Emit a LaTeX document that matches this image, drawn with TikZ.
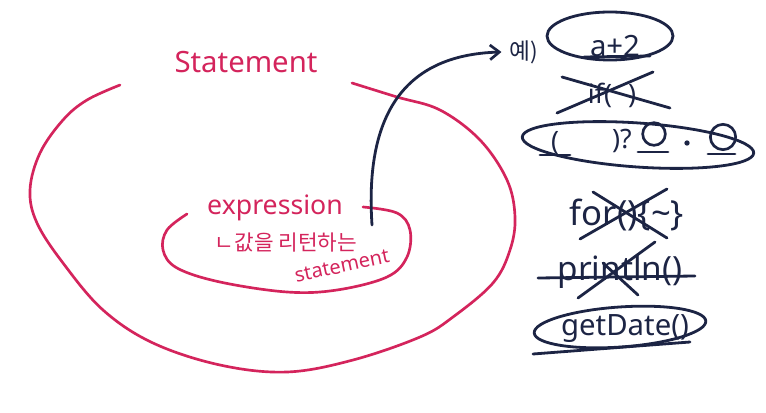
\documentclass[tikz,border=0pt]{standalone}
\usepackage{fontspec}
\setmainfont{Noto Sans}
\newfontfamily\kr{Noto Sans CJK KR}
\usetikzlibrary{arrows.meta}
\definecolor{pen}{RGB}{212,36,92}
\definecolor{ink}{RGB}{28,36,68}
\tikzset{
  redline/.style={draw=pen, line width=2pt, line cap=round, line join=round},
  inkline/.style={draw=ink, line width=2.1pt, line cap=round, line join=round},
  redtext/.style={text=pen, inner sep=0pt},
  inktext/.style={text=ink, inner sep=0pt},
  ring/.style={circle, draw=ink, line width=2pt, inner sep=0pt},
}
\newcommand{\fsz}[1]{\fontsize{#1}{#1}\selectfont}
\begin{document}
\begin{tikzpicture}[x=0.75pt,y=-0.75pt]
\useasboundingbox (0,0) rectangle (766,413);
\fill[white] (0,0) rectangle (766,413);

% outer statement region
\draw[redline] plot[smooth, tension=0.6] coordinates {(120,85) (87,100) (63,120) (40,153) (30,190) (37,223) (63,263) (103,310) (153,343) (220,365) (287,372) (353,360) (420,337) (453,317) (493,283) (510,250) (515,217) (507,180) (480,140) (440,110) (397,97) (352,83)};
\node[redtext, font=\fsz{22}] (stmt) at (246,62) {Statement};

% inner expression region
\draw[redline] plot[smooth, tension=0.6] coordinates {(187,214) (167,230) (163,250) (177,268) (220,282) (287,292) (337,290) (387,277) (407,257) (410,230) (397,213) (363,207)};
\node[redtext, font=\fsz{20}] (expr) at (275,208) {expression};
\node[redtext, font=\kr\fsz{16}] (ret) at (286,243) {ㄴ값을 리턴하는};
\node[redtext, font=\fsz{15}, rotate=12] (stmt2) at (342,266) {statement};

% arrow to examples
\coordinate (from) at (372,225);
\node[inktext, font=\kr\fsz{17}] (ex) at (524,52) {예)};
\draw[inkline, -{Straight Barb[length=7pt,width=11pt,line width=2pt]}] (from) .. controls (365,120) and (400,55) .. ([xshift=-6pt]ex.west);

% a+2
\node[inktext, font=\fsz{22}] (e1) at (615,46) {a+2};
\draw[inkline] (610,36) ellipse [x radius=63, y radius=24];
\draw[inkline] (584,57) -- (650,56);

% if()
\node[inktext, font=\fsz{20}] (e2) at (612,95) {if(\hspace{12pt})};
\draw[inkline] (557,113) -- (653,72);
\draw[inkline] (562,77) -- (670,108);

% ternary
\draw[inkline, rotate around={-4:(638,145)}] (638,145) ellipse [x radius=116, y radius=22];
\node[inktext, font=\fsz{20}] (tp1) at (555,143) {(};
\node[inktext, font=\fsz{20}] (tp2) at (622,141) {)?};
\node[ring, minimum size=17pt] (c1) at (654,134) {};
\node[ring, minimum size=19pt] (c2) at (723,137) {};
\node[circle, fill=ink, inner sep=0pt, minimum size=4pt] (dot) at (687,143) {};
\draw[inkline] (638,152) -- (668,152);
\draw[inkline] (708,154) -- (735,154);
\draw[inkline] (540,155) -- (570,155);

% for(){~}
\node[inktext, font=\fsz{26}] (e4) at (627,215) {for()\{\char`~\}};
\draw[inkline] (593,192) -- (667,238);
\draw[inkline] (667,189) -- (580,239);

% println()
\node[inktext, font=\fsz{25}] (e5) at (620,272) {println()};
\draw[inkline] (538,278) -- (695,276);
\draw[inkline] (655,242) -- (578,298);
\draw[inkline] (603,263) -- (638,295);

% getDate()
\node[inktext, font=\fsz{22}] (e6) at (625,329) {getDate()};
\draw[inkline, rotate around={4:(620,327)}] (620,327) ellipse [x radius=86, y radius=20];
\draw[inkline] (533,354) -- (690,342);
\end{tikzpicture}
\end{document}
